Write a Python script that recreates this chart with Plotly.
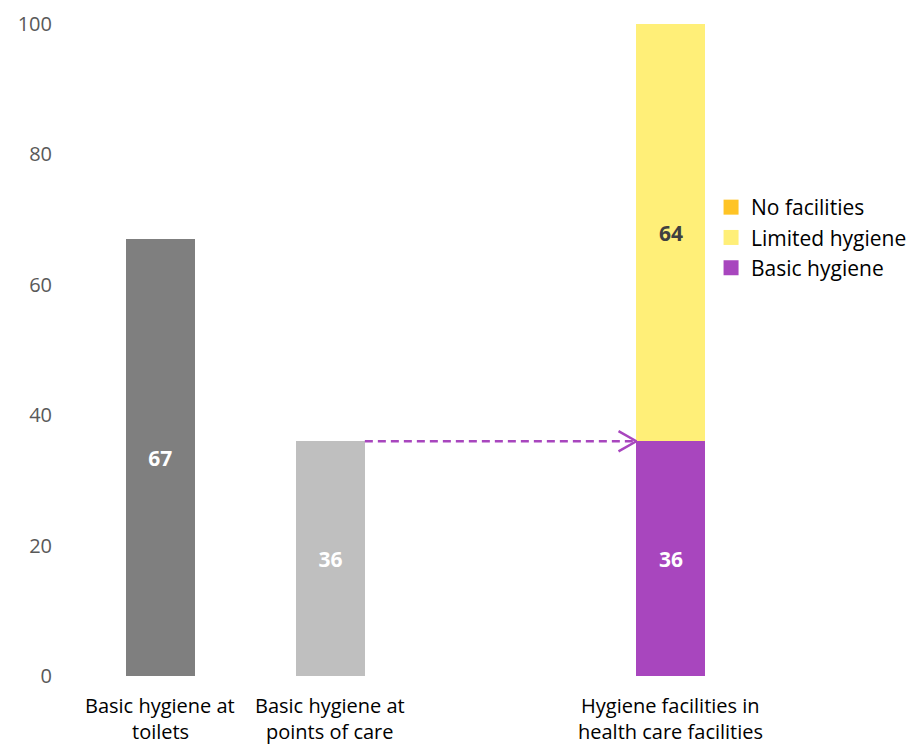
import plotly.graph_objects as go

category_lines = [["Basic hygiene at", "toilets"], ["Basic hygiene at", "points of care"], ["", ""],
                  ["Hygiene facilities in", "health care facilities"]]
positions = [0, 1, 2, 3]
toilets_value = [67]
points_of_care_value = [36]
hcf_basic = [36]
hcf_limited = [64]
hcf_none = [0]
legend_names = ["No facilities", "Limited hygiene", "Basic hygiene"]
legend_colors = ["#FFC425", "#FFEF78", "#A846BE"]
yticks = [0, 20, 40, 60, 80, 100]

bar_w = 0.405
font_family = "Open Sans, sans-serif"

fig = go.Figure()

lbl_font = dict(size=21, family=font_family, weight="bold")
fig.add_trace(go.Bar(x=[positions[0]], y=toilets_value, width=bar_w, marker_color="#7F7F7F",
                     text=toilets_value, textposition="inside", insidetextanchor="middle",
                     textfont=dict(color="white", **lbl_font), showlegend=False))
fig.add_trace(go.Bar(x=[positions[1]], y=points_of_care_value, width=bar_w, marker_color="#BFBFBF",
                     text=points_of_care_value, textposition="inside", insidetextanchor="middle",
                     textfont=dict(color="white", **lbl_font), showlegend=False))
fig.add_trace(go.Bar(x=[positions[3]], y=hcf_basic, width=bar_w, marker_color=legend_colors[2],
                     name=legend_names[2], text=hcf_basic, textposition="inside", insidetextanchor="middle",
                     textfont=dict(color="white", **lbl_font), showlegend=False))
fig.add_trace(go.Bar(x=[positions[3]], y=hcf_limited, width=bar_w, marker_color=legend_colors[1],
                     name=legend_names[1], text=hcf_limited, textposition="inside", insidetextanchor="middle",
                     textfont=dict(color="#404040", **lbl_font), showlegend=False))
fig.add_trace(go.Bar(x=[positions[3]], y=hcf_none, width=bar_w, marker_color=legend_colors[0],
                     name=legend_names[0], texttemplate="", showlegend=False))
fig.update_traces(marker_line_width=0, selector=dict(type="bar"))

# legend entries with larger square swatches
for name, color in zip(legend_names, legend_colors):
    fig.add_trace(go.Scatter(x=[None], y=[None], mode="markers", name=name,
                             marker=dict(symbol="square", size=15, color=color)))

# dashed arrow from top of points-of-care bar to health-care bar
arrow_color = "#A846BE"
x_start = positions[1] + bar_w / 2
x_end = positions[3] - bar_w / 2
y_arrow = points_of_care_value[0]
fig.add_trace(go.Scatter(x=[x_start, x_end], y=[y_arrow, y_arrow], mode="lines",
                         line=dict(color=arrow_color, width=2.5, dash="8px,5px"),
                         showlegend=False, hoverinfo="skip"))
head_dx = 0.105
head_dy = 1.55
fig.add_trace(go.Scatter(x=[x_end - head_dx, x_end, x_end - head_dx],
                         y=[y_arrow + head_dy, y_arrow, y_arrow - head_dy], mode="lines",
                         line=dict(color=arrow_color, width=2.5),
                         showlegend=False, hoverinfo="skip"))

# category labels (two lines each)
for pos, lines in zip(positions, category_lines):
    for i, line in enumerate(lines):
        if not line:
            continue
        fig.add_annotation(x=pos, xref="x", y=0, yref="paper", text=line, showarrow=False,
                           yanchor="middle", yshift=-29 - 26 * i,
                           font=dict(size=20, family=font_family, color="#000000"))

fig.update_layout(
    width=913, height=744,
    barmode="stack",
    plot_bgcolor="white", paper_bgcolor="white",
    margin=dict(l=75, r=157, t=24, b=68, autoexpand=False),
    font=dict(family=font_family, color="#000000"),
    legend=dict(x=0.934, y=0.75, xanchor="left", yanchor="top", traceorder="normal",
                font=dict(size=21, family=font_family, color="#000000"),
                itemwidth=30, itemsizing="trace", tracegroupgap=0, bgcolor="rgba(0,0,0,0)"),
    xaxis=dict(range=[-0.5, 3.5], tickvals=positions, showticklabels=False,
               showgrid=False, zeroline=False, showline=False, ticks=""),
    yaxis=dict(range=[0, 100], tickvals=yticks, showgrid=False, zeroline=False,
               showline=False, ticks="", ticklabelstandoff=22,
               tickfont=dict(size=20, family=font_family, color="#595959")),
)

fig.write_html("out.html")
